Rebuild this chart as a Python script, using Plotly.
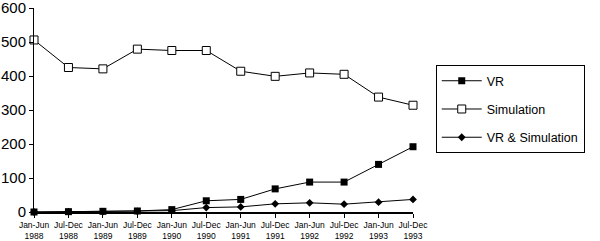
import plotly.graph_objects as go

periods = ["Jan-Jun<br>1988", "Jul-Dec<br>1988", "Jan-Jun<br>1989", "Jul-Dec<br>1989",
           "Jan-Jun<br>1990", "Jul-Dec<br>1990", "Jan-Jun<br>1991", "Jul-Dec<br>1991",
           "Jan-Jun<br>1992", "Jul-Dec<br>1992", "Jan-Jun<br>1993", "Jul-Dec<br>1993"]
vr = [0, 1, 2, 3, 7, 33, 37, 68, 88, 88, 140, 192]
simulation = [506, 425, 421, 479, 475, 475, 414, 399, 409, 405, 338, 314]
vr_sim = [0, 1, 1, 2, 4, 13, 15, 24, 27, 23, 29, 37]

x = list(range(len(periods)))
fig = go.Figure()
fig.add_trace(go.Scatter(x=x, y=vr, name="VR", mode="lines+markers", legendgroup="a",
                         line=dict(color="black", width=1),
                         marker=dict(symbol="square", size=7, color="black"),
                         cliponaxis=False))
fig.add_trace(go.Scatter(x=x, y=simulation, name="Simulation", mode="lines+markers", legendgroup="b",
                         line=dict(color="black", width=1),
                         marker=dict(symbol="square", size=8, color="white",
                                     line=dict(color="black", width=1)),
                         cliponaxis=False))
fig.add_trace(go.Scatter(x=x, y=vr_sim, name="VR & Simulation", mode="lines+markers", legendgroup="c",
                         line=dict(color="black", width=1),
                         marker=dict(symbol="diamond", size=6, color="black"),
                         cliponaxis=False))

fig.update_layout(
    width=600, height=241,
    margin=dict(l=34, r=187, t=8, b=29),
    paper_bgcolor="white", plot_bgcolor="white",
    font=dict(family="Liberation Sans, Arial, sans-serif", color="black"),
    showlegend=True,
    legend=dict(x=1.06, y=0.72, xanchor="left", yanchor="top",
                bordercolor="black", borderwidth=1, bgcolor="white",
                font=dict(size=12.5), tracegroupgap=9, itemwidth=40),
    xaxis=dict(range=[0, 11], tickmode="array", tickvals=x, ticktext=periods,
               showgrid=False, zeroline=False, showline=True, linecolor="black",
               linewidth=2, ticks="outside", ticklen=4, tickcolor="black",
               tickfont=dict(size=8.5), fixedrange=True, automargin=False,
               ticklabeloverflow="allow"),
    yaxis=dict(range=[0, 600], tickvals=[0, 100, 200, 300, 400, 500, 600],
               showgrid=False, zeroline=False, showline=True, linecolor="black",
               linewidth=1, ticks="outside", ticklen=4, tickcolor="black",
               tickfont=dict(size=15), fixedrange=True, automargin=False,
               ticklabeloverflow="allow"),
)
fig.write_html("out.html")
